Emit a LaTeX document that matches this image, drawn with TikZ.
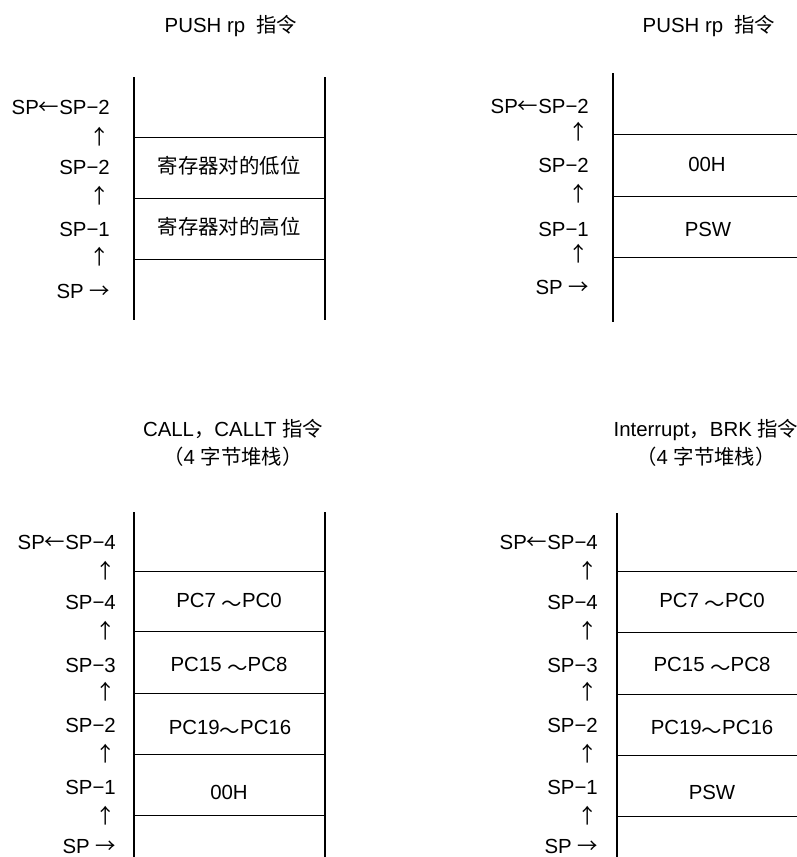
\documentclass[tikz,border=0pt]{standalone}
\usepackage{fontspec}
\setmainfont{Liberation Sans}
\newfontfamily\cjk{Noto Sans CJK SC}
\newcommand{\arrL}{{\cjk ←}}
\newcommand{\arrR}{{\cjk →}}
\newcommand{\arrU}{{\cjk ↑}}
\newcommand{\tld}{{\cjk\raisebox{-0.22em}{～}}}
\tikzset{wall/.style={line width=2.6pt}, rule/.style={line width=0.8pt}, lbl/.style={anchor=east, inner sep=0pt, text height=14pt, text depth=0pt}, cell/.style={inner sep=0pt, text height=14pt, text depth=0pt}, ttl/.style={align=center, inner sep=0pt}}

\begin{document}
\begin{tikzpicture}[x=1pt,y=-1pt,font=\fontsize{20.4}{28}\selectfont]
\useasboundingbox (0,0) rectangle (797,857);
% PUSH rp, register pair
\node[ttl] (ttlA) at (231,26) {PUSH rp\ \ {\cjk 指令}};
\draw[wall] (134,77) -- (134,320); \draw[wall] (325,77) -- (325,320);
\draw[rule] (134,137) -- (325,137); \draw[rule] (134,198) -- (325,198); \draw[rule] (134,259) -- (325,259);
\node[lbl] (a0) at (110,107) {SP\arrL SP−2};
\node[lbl] (a1) at (110,137) {\arrU};
\node[lbl] (a2) at (110,167) {SP−2};
\node[lbl] (a3) at (110,196) {\arrU};
\node[lbl] (a4) at (110,229) {SP−1};
\node[lbl] (a5) at (110,257) {\arrU};
\node[lbl] (a6) at (110,291) {SP \arrR};
\node[cell] (aLo) at (229,166) {\cjk 寄存器对的低位};
\node[cell] (aHi) at (229,227) {\cjk 寄存器对的高位};
% PUSH rp, PSW
\node[ttl] (ttlB) at (709,26) {PUSH rp\ \ {\cjk 指令}};
\draw[wall] (613,73) -- (613,322);
\draw[rule] (613,134) -- (797,134); \draw[rule] (613,196) -- (797,196); \draw[rule] (613,257) -- (797,257);
\node[lbl] (b0) at (589,106) {SP\arrL SP−2};
\node[lbl] (b1) at (589,132) {\arrU};
\node[lbl] (b2) at (589,165) {SP−2};
\node[lbl] (b3) at (589,194) {\arrU};
\node[lbl] (b4) at (589,229) {SP−1};
\node[lbl] (b5) at (589,254) {\arrU};
\node[lbl] (b6) at (589,287) {SP \arrR};
\node[cell] (bLo) at (707,164) {00H};
\node[cell] (bHi) at (708,229) {PSW};
% CALL, CALLT
\node[ttl] (ttlC) at (233,443) {CALL{\cjk ，}CALLT {\cjk 指令}\\{\cjk （}4 {\cjk 字节堆栈）}};
\draw[wall] (134,512) -- (134,857); \draw[wall] (325,512) -- (325,857);
\draw[rule] (134,571) -- (325,571); \draw[rule] (134,631) -- (325,631); \draw[rule] (134,693) -- (325,693);
\draw[rule] (134,754) -- (325,754); \draw[rule] (134,815) -- (325,815);
\node[lbl] (c0) at (116,542) {SP\arrL SP−4};
\node[lbl] (c1) at (116,571) {\arrU};
\node[lbl] (c2) at (116,602) {SP−4};
\node[lbl] (c3) at (116,631) {\arrU};
\node[lbl] (c4) at (116,665) {SP−3};
\node[lbl] (c5) at (116,692) {\arrU};
\node[lbl] (c6) at (116,725) {SP−2};
\node[lbl] (c7) at (116,754) {\arrU};
\node[lbl] (c8) at (116,787) {SP−1};
\node[lbl] (c9) at (116,816) {\arrU};
\node[lbl] (c10) at (116,846) {SP \arrR};
\node[cell] (cPcl) at (229,600) {PC7 \tld PC0};
\node[cell] (cPch) at (229,664) {PC15 \tld PC8};
\node[cell] (cPcs) at (230,727) {PC19\tld PC16};
\node[cell] (cPad) at (229,792) {00H};
% Interrupt, BRK
\node[ttl] (ttlD) at (706,443) {Interrupt{\cjk ，}BRK {\cjk 指令}\\{\cjk （}4 {\cjk 字节堆栈）}};
\draw[wall] (617,513) -- (617,857);
\draw[rule] (617,571) -- (797,571); \draw[rule] (617,632) -- (797,632); \draw[rule] (617,694) -- (797,694);
\draw[rule] (617,755) -- (797,755); \draw[rule] (617,816) -- (797,816);
\node[lbl] (d0) at (598,542) {SP\arrL SP−4};
\node[lbl] (d1) at (598,571) {\arrU};
\node[lbl] (d2) at (598,602) {SP−4};
\node[lbl] (d3) at (598,631) {\arrU};
\node[lbl] (d4) at (598,665) {SP−3};
\node[lbl] (d5) at (598,692) {\arrU};
\node[lbl] (d6) at (598,725) {SP−2};
\node[lbl] (d7) at (598,754) {\arrU};
\node[lbl] (d8) at (598,787) {SP−1};
\node[lbl] (d9) at (598,816) {\arrU};
\node[lbl] (d10) at (598,846) {SP \arrR};
\node[cell] (dPcl) at (712,600) {PC7 \tld PC0};
\node[cell] (dPch) at (712,664) {PC15 \tld PC8};
\node[cell] (dPcs) at (712,727) {PC19\tld PC16};
\node[cell] (dPsw) at (712,792) {PSW};
\end{tikzpicture}
\end{document}
